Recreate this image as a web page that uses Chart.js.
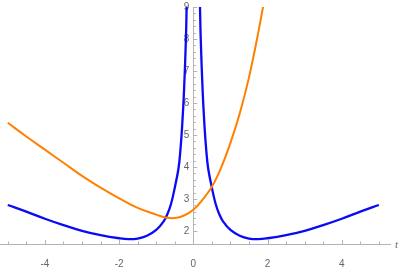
<!DOCTYPE html>
<html><head><meta charset="utf-8">
<script src="https://cdn.jsdelivr.net/npm/chart.js@4.4.1/dist/chart.umd.min.js"></script>
<style>html,body{margin:0;padding:0;background:#fff}#wrap{width:400px;height:267px;position:relative}</style>
</head><body><div id="wrap"><canvas id="c"></canvas></div>
<script>
// Blue curve, left branch (t < 0) and right branch (t > 0)
const tBlueLeft = [-5,-4.5,-4,-3.5,-3,-2.5,-2,-1.75,-1.5,-1.25,-1,-0.8,-0.7,-0.6,-0.5,-0.4,-0.35,-0.3,-0.25,-0.2,-0.18,-0.16];
const blueLeft  = [2.81,2.60,2.38,2.18,2.00,1.87,1.77,1.74,1.76,1.85,2.03,2.30,2.52,2.85,3.35,3.95,4.5,5.3,6.4,8.0,9.0,10.2];
const tBlueRight = [0.16,0.18,0.2,0.25,0.3,0.35,0.4,0.5,0.6,0.7,0.8,1,1.25,1.5,1.75,2,2.5,3,3.5,4,4.5,5];
const blueRight  = [10.2,9.0,8.0,6.4,5.3,4.5,3.95,3.35,2.85,2.52,2.30,2.03,1.85,1.76,1.74,1.77,1.87,2.00,2.18,2.38,2.60,2.81];
// Orange curve
const tOrange = [-5,-4.5,-4,-3.5,-3,-2.5,-2,-1.5,-1,-0.75,-0.5,-0.25,0,0.25,0.5,0.75,1,1.25,1.5,1.75,1.9,2.0];
const orange  = [5.38,4.95,4.54,4.13,3.72,3.35,3.02,2.72,2.51,2.42,2.40,2.48,2.66,2.98,3.38,3.98,4.75,5.67,6.80,8.20,9.15,9.9];
// Axis tick labels
const xTickLabels = [-4,-2,0,2,4];
const yTickLabels = [2,3,4,5,6,7,8,9];
const xMinorTicks = [-5,-4.5,-3.5,-3,-2.5,-1.5,-1,-0.5,0.5,1,1.5,2.5,3,3.5,4.5,5];
const axisTitle = 't';

const toPts = (ts, ys) => ts.map((t, i) => ({x: t, y: ys[i]}));
const AXIS = '#b4b4b4';
const LABEL = '#666666';
const FONT = {family: "'Liberation Sans', Arial, sans-serif", size: 10};

const axisDeco = {
  id: 'axisDeco',
  beforeDatasetsDraw(chart) {
    const {ctx, scales: {x, y}} = chart;
    const x0 = x.getPixelForValue(0);
    const yb = y.bottom;
    ctx.save();
    ctx.strokeStyle = AXIS;
    ctx.lineWidth = 1;
    ctx.beginPath();
    xTickLabels.forEach(v => { const p = Math.round(x.getPixelForValue(v)) + 0.5; ctx.moveTo(p, yb); ctx.lineTo(p, yb - 4); });
    xMinorTicks.forEach(v => { const p = Math.round(x.getPixelForValue(v)) + 0.5; ctx.moveTo(p, yb); ctx.lineTo(p, yb - 2.5); });
    for (let k = 0; k <= 35; k++) {
      const v = 2 + k * 0.2;
      if (v > 9.001) break;
      const major = Math.abs(v - Math.round(v)) < 1e-6;
      const p = Math.round(y.getPixelForValue(v)) + 0.5;
      ctx.moveTo(x0, p); ctx.lineTo(x0 + (major ? 4 : 2.5), p);
    }
    ctx.stroke();
    // y tick labels, left of the axis
    ctx.fillStyle = LABEL;
    ctx.font = "10px 'Liberation Sans', Arial, sans-serif";
    ctx.textAlign = 'right';
    ctx.textBaseline = 'middle';
    yTickLabels.forEach(v => ctx.fillText(String(v), x0 - 4, y.getPixelForValue(v)));
    // axis title
    ctx.font = "italic 11px 'Liberation Serif', 'DejaVu Serif', serif";
    ctx.textAlign = 'left';
    ctx.fillText(axisTitle, x.right + 5, yb + 1);
    ctx.restore();
  }
};

new Chart(document.getElementById('c'), {
  type: 'line',
  data: {
    datasets: [
      {data: toPts(tOrange, orange), borderColor: '#ff8000', borderWidth: 2},
      {data: toPts(tBlueLeft, blueLeft), borderColor: '#0a0af5', borderWidth: 2.3},
      {data: toPts(tBlueRight, blueRight), borderColor: '#0a0af5', borderWidth: 2.3}
    ]
  },
  options: {
    responsive: true,
    maintainAspectRatio: false,
    animation: false,
    elements: {point: {radius: 0}, line: {tension: 0.4, fill: false, capBezierPoints: false}},
    layout: {padding: {top: 7, right: 10, left: 0, bottom: 0}},
    plugins: {legend: {display: false}, tooltip: {enabled: false}},
    scales: {
      x: {
        type: 'linear', min: -5.21, max: 5.30, position: 'bottom',
        grid: {display: false},
        border: {display: true, color: AXIS, width: 1},
        afterBuildTicks: s => { s.ticks = xTickLabels.map(v => ({value: v})); },
        afterFit: s => { s.height = 23; },
        ticks: {color: LABEL, font: FONT, padding: 6, maxRotation: 0, autoSkip: false}
      },
      y: {
        type: 'linear', min: 1.59, max: 9, position: {x: 0},
        grid: {display: false},
        border: {display: true, color: AXIS, width: 1},
        afterBuildTicks: s => { s.ticks = yTickLabels.map(v => ({value: v})); },
        ticks: {display: false}
      }
    }
  },
  plugins: [axisDeco]
});
</script></body></html>
